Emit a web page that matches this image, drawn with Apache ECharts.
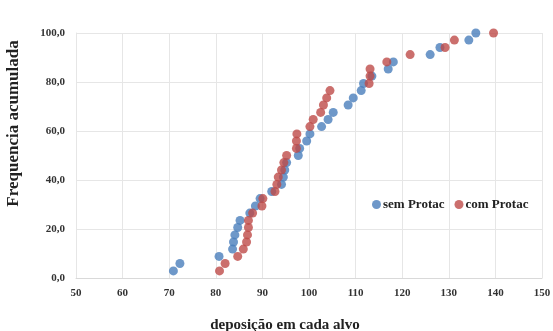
<!DOCTYPE html>
<html>
<head>
<meta charset="utf-8">
<script src="https://cdn.jsdelivr.net/npm/echarts@6/dist/echarts.min.js"></script>
<style>
  html, body { margin: 0; padding: 0; background: #fff; }
  #chart { width: 553px; height: 331px; }
</style>
</head>
<body>
<div id="chart"></div>
<script>
// cumulative frequency levels (same for both series)
const freqLevels = [2.9, 5.9, 8.8, 11.8, 14.7, 17.6, 20.6, 23.5, 26.5, 29.4, 32.4, 35.3,
  38.2, 41.2, 44.1, 47.1, 50.0, 52.9, 55.9, 58.8, 61.8, 64.7, 67.6, 70.6, 73.5, 76.5,
  79.4, 82.4, 85.3, 88.2, 91.2, 94.1, 97.1, 100.0];

const semProtac = [70.9, 72.3, 80.7, 83.6, 83.8, 84.1, 84.7, 85.2, 87.3, 88.5, 89.5, 92.0,
  94.1, 94.5, 94.8, 95.2, 97.7, 98.0, 99.5, 100.2, 102.7, 104.1, 105.2, 108.4, 109.5, 111.2,
  111.7, 113.5, 117.0, 118.1, 126.0, 128.1, 134.3, 135.8];

const comProtac = [80.8, 82.0, 84.7, 85.9, 86.6, 86.8, 87.0, 87.0, 87.9, 89.9, 90.1, 92.7,
  93.1, 93.4, 94.1, 94.6, 95.2, 97.3, 97.3, 97.4, 100.2, 100.9, 102.5, 103.1, 103.8, 104.5,
  112.9, 113.1, 113.1, 116.7, 121.7, 129.2, 131.2, 139.6];

const serif = '"Liberation Serif", "Times New Roman", serif';

const chart = echarts.init(document.getElementById('chart'));

const pairs = (xs) => xs.map((x, i) => [x, freqLevels[i]]);

chart.setOption({
  animation: false,
  grid: { left: 76, right: 11, top: 33, bottom: 53, outerBoundsMode: 'none' },
  legend: {
    left: 367,
    top: 193,
    itemWidth: 9,
    itemHeight: 9,
    itemGap: 10,
    icon: 'circle',
    textStyle: { fontFamily: serif, fontWeight: 'bold', fontSize: 13, color: '#222', padding: [0, 0, 0, -3] },
    data: ['sem Protac', 'com Protac']
  },
  xAxis: {
    type: 'value',
    min: 50, max: 150, interval: 10,
    name: 'deposição em cada alvo',
    nameLocation: 'middle',
    nameGap: 40,
    nameTextStyle: { fontFamily: serif, fontWeight: 'bold', fontSize: 15, color: '#222', padding: [0, 48, 0, 0] },
    axisLine: { show: true, lineStyle: { color: '#d9d9d9' } },
    axisTick: { show: false },
    axisLabel: { fontFamily: serif, fontWeight: 'bold', fontSize: 11, color: '#333', margin: 10 },
    splitLine: { show: true, lineStyle: { color: '#e6e6e6' } }
  },
  yAxis: {
    type: 'value',
    min: 0, max: 100, interval: 20,
    name: 'Frequencia acumulada',
    nameLocation: 'middle',
    nameGap: 54,
    nameTextStyle: { fontFamily: serif, fontWeight: 'bold', fontSize: 17, color: '#222', padding: [0, 0, 0, 64] },
    axisLine: { show: true, lineStyle: { color: '#e6e6e6' } },
    axisTick: { show: false },
    axisLabel: {
      fontFamily: serif, fontWeight: 'bold', fontSize: 11, color: '#333', margin: 11,
      formatter: (v) => v.toFixed(1).replace('.', ',')
    },
    splitLine: { show: true, lineStyle: { color: '#e6e6e6' } }
  },
  series: [
    {
      name: 'sem Protac',
      type: 'scatter',
      symbolSize: 9,
      itemStyle: { color: '#4a7ebb' },
      data: pairs(semProtac)
    },
    {
      name: 'com Protac',
      type: 'scatter',
      symbolSize: 9,
      itemStyle: { color: '#be4b48' },
      data: pairs(comProtac)
    }
  ]
});
</script>
</body>
</html>
